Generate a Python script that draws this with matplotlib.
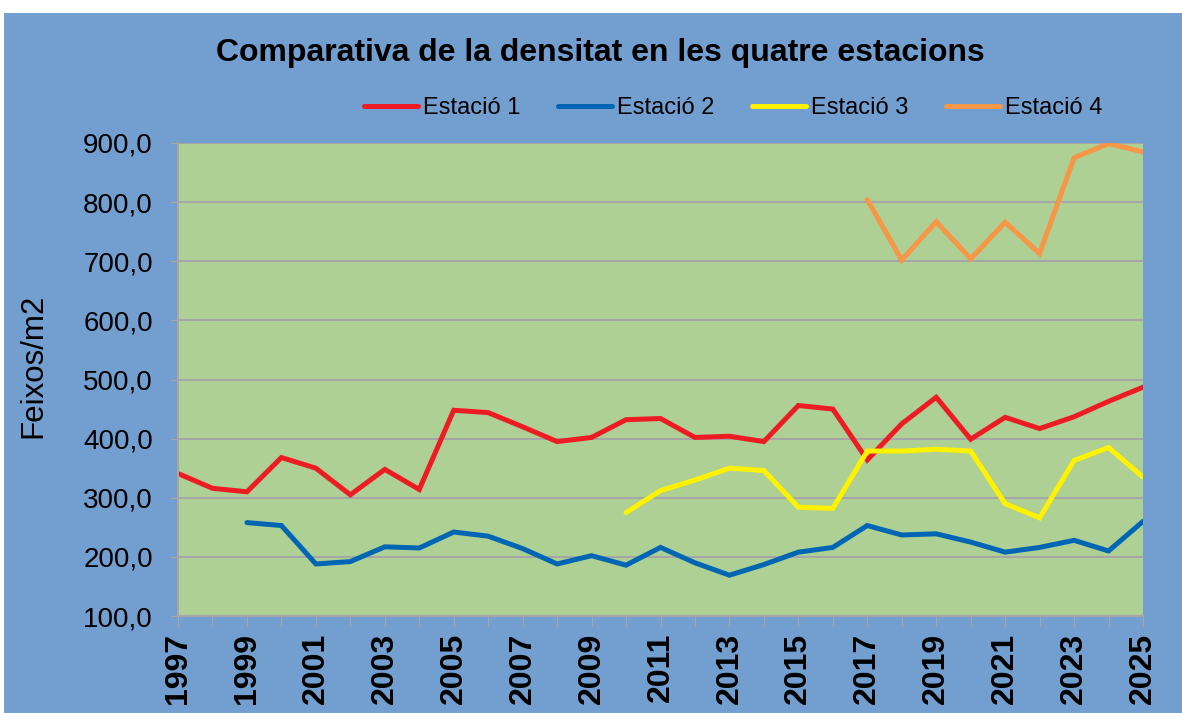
import numpy as np
import matplotlib
matplotlib.use('Agg')
import matplotlib.pyplot as plt
from matplotlib.patches import Rectangle
from matplotlib.ticker import FuncFormatter

plt.rcParams['font.family'] = ['Liberation Sans', 'DejaVu Sans']

years = np.arange(1997, 2026)

estacio1 = [341, 316, 310, 368, 350, 305, 348, 314, 448, 444, 420, 395, 402, 432, 434,
            402, 404, 395, 456, 450, 364, 425, 470, 399, 436, 417, 437, 463, 487]
years2 = np.arange(1999, 2026)
estacio2 = [258, 253, 188, 192, 217, 215, 242, 235, 214, 188, 202, 186, 216,
            190, 169, 187, 208, 216, 253, 237, 239, 225, 208, 216, 228, 210, 260]
years3 = np.arange(2010, 2026)
estacio3 = [275, 312, 330, 350, 346, 284, 282, 379, 379, 382, 379, 290, 266, 363, 385, 335]
years4 = np.arange(2017, 2026)
estacio4 = [804, 702, 767, 704, 766, 713, 875, 899, 885]

bg_blue = '#729fcf'
plot_green = '#aed094'
grid_grey = '#a6a6a6'

fig = plt.figure(figsize=(11.82, 7.13), dpi=100)
fig.patch.set_facecolor('white')
fig.patches.append(Rectangle((4 / 1182, 0), 1, 1 - 13 / 713, transform=fig.transFigure,
                             facecolor=bg_blue, edgecolor='none', zorder=-10))

ax = fig.add_axes([178 / 1182, 1 - 616 / 713, 965 / 1182, 473 / 713])
ax.set_facecolor(plot_green)

kw = dict(lw=3.6, solid_capstyle='round', solid_joinstyle='miter')
ax.plot(years, estacio1, color='#ed1c24', label='Estació 1', **kw)
ax.plot(years2, estacio2, color='#0066b3', label='Estació 2', **kw)
ax.plot(years3, estacio3, color='#fff200', label='Estació 3', **kw)
ax.plot(years4, estacio4, color='#f79646', label='Estació 4', **kw)

ax.set_xlim(1997, 2025)
ax.set_ylim(100, 900)
ax.set_yticks(np.arange(100, 901, 100))
ax.yaxis.set_major_formatter(FuncFormatter(lambda v, p: f'{v:.1f}'.replace('.', ',')))
ax.set_xticks(years)
ax.set_xticklabels([str(y) if y % 2 == 1 else '' for y in years],
                   rotation=90, fontsize=23, fontweight='bold')
ax.tick_params(axis='y', labelsize=20, length=6, color=grid_grey, pad=12)
ax.tick_params(axis='x', length=7, color=grid_grey, pad=5)
ax.grid(axis='y', color=grid_grey, lw=1.5)
ax.set_axisbelow(True)

for s in ['top', 'right']:
    ax.spines[s].set_visible(False)
for s in ['left', 'bottom']:
    ax.spines[s].set_color(grid_grey)
    ax.spines[s].set_linewidth(1.5)

ax.set_ylabel('Feixos/m2', fontsize=22.5)
ax.yaxis.set_label_coords(-0.134, 0.529)

fig.text(600 / 1182, 1 - 53 / 713, 'Comparativa de la densitat en les quatre estacions',
         ha='center', va='center', fontsize=23, fontweight='bold')

fig.legend(loc='center', bbox_to_anchor=(733 / 1182, 1 - 108 / 713), ncol=4,
           frameon=False, fontsize=17, handlelength=2.3, handletextpad=0.2,
           columnspacing=1.6)

fig.savefig('out.png', dpi=100)
